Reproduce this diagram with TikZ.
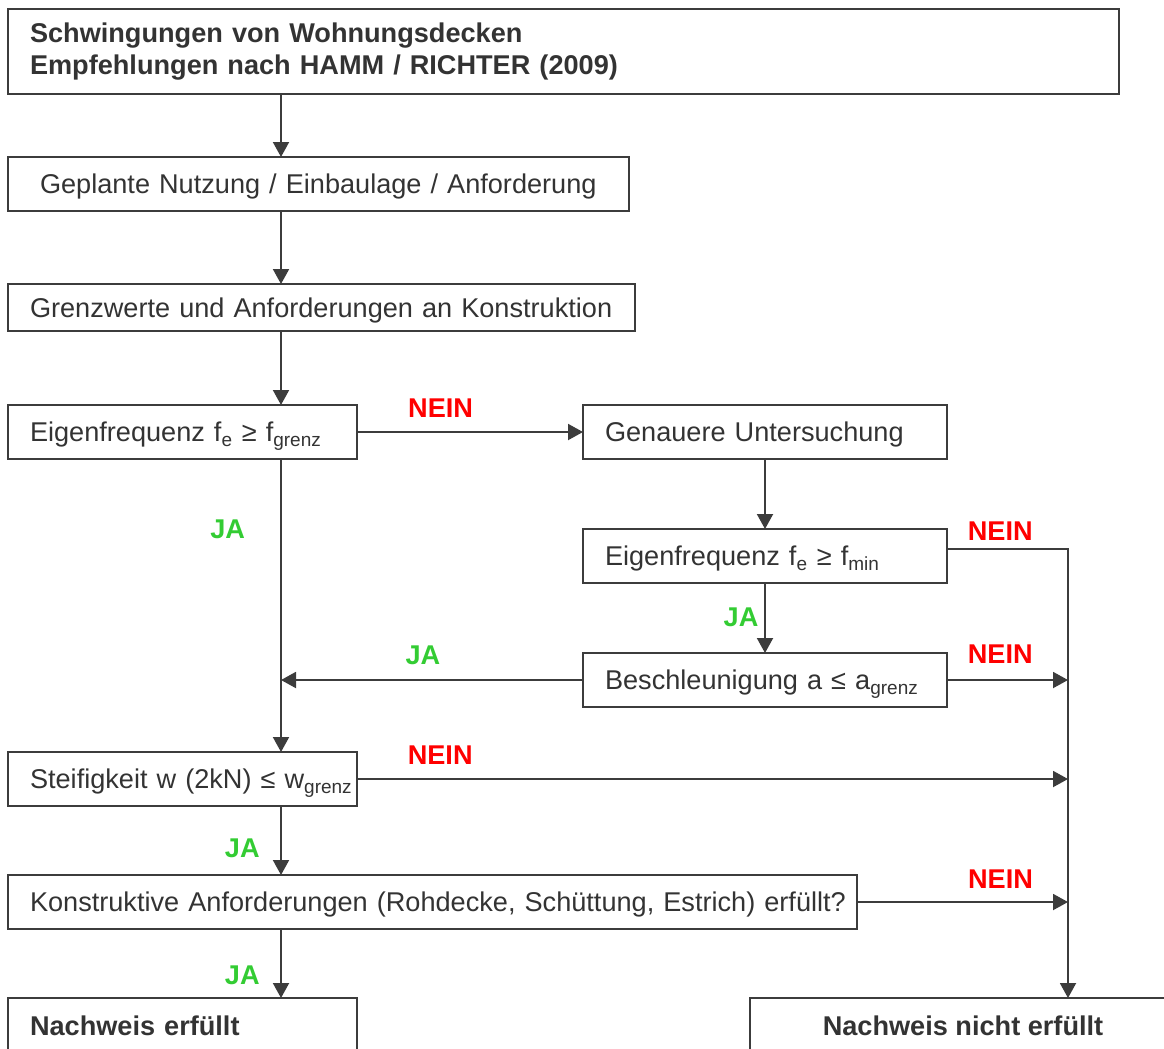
\documentclass[tikz,border=0pt]{standalone}
\usepackage{fontspec}
\setmainfont{Liberation Sans}
\usetikzlibrary{arrows.meta, positioning}
\definecolor{linie}{HTML}{3C3C3C}
\definecolor{schrift}{HTML}{333333}
\definecolor{neinrot}{HTML}{FF0000}
\definecolor{jagruen}{HTML}{33CC33}

\begin{document}
\begin{tikzpicture}[
    box/.style={draw=linie, line width=1.8pt, text=schrift, inner xsep=0.55cm, inner ysep=0pt, outer sep=0pt,
                minimum height=1.35cm, text height=13.8pt, text depth=0pt, align=left,
                font=\fontsize{19.3}{22.8}\selectfont},
    fett/.style={font=\fontsize{19.3}{22.8}\selectfont\bfseries},
    arrow/.style={-{Triangle[length=0.375cm, width=0.4cm]}, draw=linie, line width=1.4pt},
    nein/.style={text=neinrot, inner sep=0pt, font=\fontsize{19.3}{22.8}\selectfont\bfseries},
    ja/.style={text=jagruen, inner sep=0pt, font=\fontsize{19.3}{22.8}\selectfont\bfseries},
]
\useasboundingbox (0,0) rectangle (29.1,-26.2);
\coordinate (achse) at (7.025,0);
\coordinate (rechts) at (26.7,0);

\node[box, fett, anchor=north west, text width=26.675cm, minimum height=2.125cm, text height={}, text depth={}] (titel) at (0.2,-0.225)
    {Schwingungen von Wohnungsdecken\\Empfehlungen nach HAMM / RICHTER (2009)};
\node[box, below=1.575cm of titel.south west, anchor=north west, inner xsep=0.8cm, text width=13.925cm] (nutzung)
    {\mbox{Geplante Nutzung / Einbaulage / Anforderung}};
\node[box, below=1.825cm of nutzung.south west, anchor=north west, text width=14.575cm, minimum height=1.175cm] (grenzwerte)
    {\mbox{Grenzwerte und Anforderungen an Konstruktion}};
\node[box, below=1.85cm of grenzwerte.south west, anchor=north west, text width=7.625cm] (eigen)
    {Eigenfrequenz f\textsubscript{e} ≥ f\textsubscript{grenz}};
\node[box, right=5.65cm of eigen.north east, anchor=north west, text width=8cm] (genauer)
    {Genauere Untersuchung};
\node[box, below=1.75cm of genauer, text width=8cm] (eigenmin)
    {Eigenfrequenz f\textsubscript{e} ≥ f\textsubscript{min}};
\node[box, below=1.75cm of eigenmin, text width=8cm] (beschl)
    {Beschleunigung a ≤ a\textsubscript{grenz}};
\node[box, below=7.325cm of eigen.south west, anchor=north west, text width=7.625cm] (steif)
    {\mbox{Steifigkeit w (2kN) ≤ w\textsubscript{grenz}}};
\node[box, below=1.725cm of steif.south west, anchor=north west, text width=20.125cm] (konstr)
    {\mbox{Konstruktive Anforderungen (Rohdecke, Schüttung, Estrich) erfüllt?}};
\node[box, fett, below=1.725cm of konstr.south west, anchor=north west, text width=7.625cm, minimum height=1.4cm] (erfuellt)
    {Nachweis erfüllt};
\node[box, fett, right=9.825cm of erfuellt.north east, anchor=north west, minimum width=10.65cm, minimum height=1.4cm] (nicht)
    {Nachweis nicht erfüllt};

\draw[arrow] (titel.south -| achse) -- (nutzung.north -| achse);
\draw[arrow] (nutzung.south -| achse) -- (grenzwerte.north -| achse);
\draw[arrow] (grenzwerte.south -| achse) -- (eigen.north -| achse);
\draw[arrow] (eigen.east) -- node[nein, above=0.33cm, pos=.37] {NEIN} (genauer.west);
\draw[arrow] (eigen.south -| achse) -- node[ja, left=0.875cm, pos=.24] {JA} (steif.north -| achse);
\draw[arrow] (genauer.south) -- (eigenmin.north);
\draw[arrow] (eigenmin.south) -- node[ja, left=0.14cm, pos=.49] {JA} (beschl.north);
\draw[arrow] ([yshift=0.175cm]eigenmin.east) -| node[nein, above=0.2cm, pos=.22] {NEIN} (nicht.north -| rechts);
\draw[arrow] (beschl.east) -- node[nein, above=0.4cm, pos=.44] {NEIN} (beschl.east -| rechts);
\draw[arrow] (beschl.west) -- node[ja, above=0.35cm, pos=.53] {JA} (beschl.west -| achse);
\draw[arrow] (steif.east) -- node[nein, above=0.35cm, pos=.117] {NEIN} (steif.east -| rechts);
\draw[arrow] (steif.south -| achse) -- node[ja, left=0.51cm, pos=.62] {JA} (konstr.north -| achse);
\draw[arrow] (konstr.east) -- node[nein, above=0.325cm, pos=.68] {NEIN} (konstr.east -| rechts);
\draw[arrow] (konstr.south -| achse) -- node[ja, left=0.51cm, pos=.67] {JA} (erfuellt.north -| achse);
\end{tikzpicture}
\end{document}
